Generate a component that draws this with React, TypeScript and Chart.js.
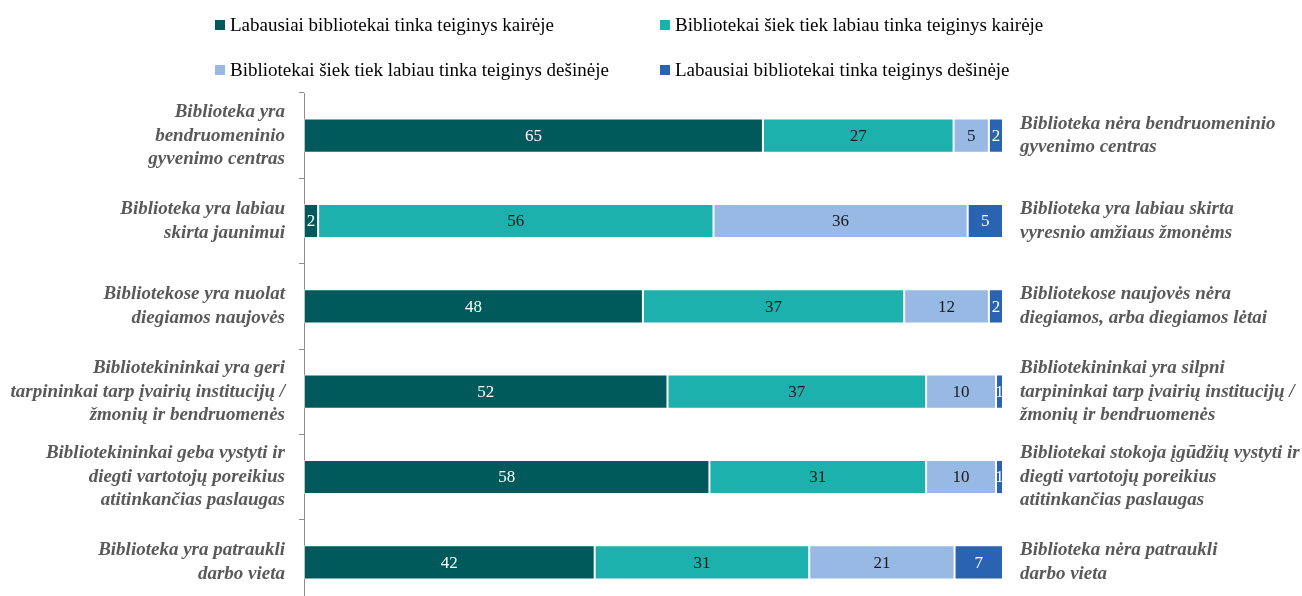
import React, { useEffect, useRef } from "react";
import { Chart, registerables } from "chart.js";

Chart.register(...registerables);

const leftLabels: string[][] = [
  ["Biblioteka yra", "bendruomeninio", "gyvenimo centras"],
  ["Biblioteka yra labiau", "skirta jaunimui"],
  ["Bibliotekose yra nuolat", "diegiamos naujovės"],
  ["Bibliotekininkai yra geri", "tarpininkai tarp įvairių institucijų /", "žmonių ir bendruomenės"],
  ["Bibliotekininkai geba vystyti ir", "diegti vartotojų poreikius", "atitinkančias paslaugas"],
  ["Biblioteka yra patraukli", "darbo vieta"],
];

const rightLabels: string[][] = [
  ["Biblioteka nėra bendruomeninio", "gyvenimo centras"],
  ["Biblioteka yra labiau skirta", "vyresnio amžiaus žmonėms"],
  ["Bibliotekose naujovės nėra", "diegiamos, arba diegiamos lėtai"],
  ["Bibliotekininkai yra silpni", "tarpininkai tarp įvairių institucijų /", "žmonių ir bendruomenės"],
  ["Bibliotekai stokoja įgūdžių vystyti ir", "diegti vartotojų poreikius", "atitinkančias paslaugas"],
  ["Biblioteka nėra patraukli", "darbo vieta"],
];

const seriesNames = [
  "Labausiai bibliotekai tinka teiginys kairėje",
  "Bibliotekai šiek tiek labiau tinka teiginys kairėje",
  "Bibliotekai šiek tiek labiau tinka teiginys dešinėje",
  "Labausiai bibliotekai tinka teiginys dešinėje",
];

const strongLeft = [65, 2, 48, 52, 58, 42];
const slightLeft = [27, 56, 37, 37, 31, 31];
const slightRight = [5, 36, 12, 10, 10, 21];
const strongRight = [2, 5, 2, 1, 1, 7];

const seriesValues = [strongLeft, slightLeft, slightRight, strongRight];
const seriesColors = ["#005A5B", "#1DB1AD", "#97B9E4", "#2A63B1"];
const labelColors = ["#FFFFFF", "#1A1A1A", "#1A1A1A", "#FFFFFF"];

const FONT = '"Liberation Serif", "Times New Roman", serif';

const rowSums = strongLeft.map((_, j) =>
  seriesValues.reduce((acc, s) => acc + s[j], 0)
);

const valueLabelPlugin = {
  id: "valueLabels",
  afterDatasetsDraw(chart: any) {
    const ctx = chart.ctx;
    ctx.save();
    ctx.font = `17px ${FONT}`;
    ctx.textAlign = "center";
    ctx.textBaseline = "middle";
    chart.data.datasets.forEach((_ds: any, i: number) => {
      const meta = chart.getDatasetMeta(i);
      meta.data.forEach((el: any, j: number) => {
        const p = el.getCenterPoint();
        ctx.fillStyle = labelColors[i];
        ctx.fillText(String(seriesValues[i][j]), p.x, p.y + 1);
      });
    });
    ctx.restore();
  },
};

const tickFont = { family: FONT, size: 19, style: "italic" as const, weight: "bold" as const, lineHeight: 1.24 };

export default function App() {
  const canvasRef = useRef<HTMLCanvasElement | null>(null);

  useEffect(() => {
    if (!canvasRef.current) return;
    const chart = new Chart(canvasRef.current, {
      type: "bar",
      data: {
        labels: leftLabels as any,
        datasets: seriesValues.map((vals, i) => ({
          label: seriesNames[i],
          data: vals.map((v, j) => (v / rowSums[j]) * 100),
          backgroundColor: seriesColors[i],
          borderColor: "rgba(255,255,255,0.45)",
          borderWidth: 1,
          borderSkipped: false,
          barPercentage: 0.8,
          categoryPercentage: 0.5,
        })),
      },
      options: {
        indexAxis: "y",
        responsive: false,
        animation: false,
        layout: { padding: { top: 93, bottom: 0, left: 0, right: 0 } },
        plugins: {
          legend: { display: false },
          tooltip: { enabled: false },
        },
        scales: {
          x: {
            stacked: true,
            min: 0,
            max: 100,
            display: false,
          },
          y: {
            stacked: true,
            position: "left",
            offset: true,
            border: { display: true, color: "#8C8C8C", width: 1 },
            grid: {
              offset: true,
              display: true,
              drawOnChartArea: false,
              drawTicks: true,
              tickLength: 5,
              color: "#8C8C8C",
            },
            ticks: {
              padding: 14,
              color: "#595959",
              font: tickFont,
            },
            afterFit: (s: any) => {
              s.width = 304;
              s.paddingTop = 0;
              s.paddingBottom = 0;
            },
          },
          y2: {
            type: "category",
            position: "right",
            labels: rightLabels as any,
            offset: true,
            border: { display: false },
            grid: { display: false, drawTicks: false },
            ticks: {
              padding: 17,
              color: "#595959",
              font: tickFont,
            },
            afterFit: (s: any) => {
              s.width = 299;
              s.paddingTop = 0;
              s.paddingBottom = 0;
            },
          },
        },
      },
      plugins: [valueLabelPlugin],
    });
    return () => chart.destroy();
  }, []);

  const legendPos = [
    { left: 215, top: 25 },
    { left: 660, top: 25 },
    { left: 215, top: 70 },
    { left: 660, top: 70 },
  ];

  return (
    <div
      style={{
        position: "fixed",
        left: 0,
        top: 0,
        width: 1302,
        height: 596,
        overflow: "hidden",
        background: "#FFFFFF",
      }}
    >
      <canvas ref={canvasRef} width={1302} height={605} style={{ display: "block" }} />
      {seriesNames.map((name, i) => (
        <div
          key={name}
          style={{
            position: "absolute",
            left: legendPos[i].left,
            top: legendPos[i].top - 12,
            height: 24,
            display: "flex",
            alignItems: "center",
            whiteSpace: "nowrap",
            fontFamily: FONT,
            fontSize: 19,
            color: "#000000",
          }}
        >
          <span
            style={{
              display: "inline-block",
              width: 10,
              height: 10,
              background: seriesColors[i],
              marginRight: 5,
            }}
          />
          <span>{name}</span>
        </div>
      ))}
    </div>
  );
}
